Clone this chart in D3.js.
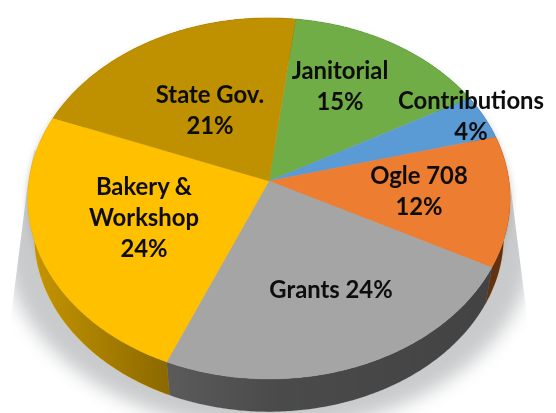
<!DOCTYPE html>
<html>
<head>
<meta charset="utf-8">
<script src="https://cdnjs.cloudflare.com/ajax/libs/d3/7.8.5/d3.min.js"></script>
<style>
html,body{margin:0;padding:0;background:#fff;overflow:hidden}
svg{display:block}
text{font-family:Lato,"Open Sans",sans-serif;font-weight:700;fill:#0b0b0b;text-anchor:middle}
</style>
</head>
<body>
<svg id="chart" width="556" height="413"></svg>
<script>
// Data, clockwise from the State Gov. / Janitorial boundary
const categories = ["Janitorial","Contributions","Ogle 708","Grants","Bakery & Workshop","State Gov."];
const values = [15,4,11.7,23.7,24.6,21];
const colors = ["#70AD47","#5B9BD5","#ED7D31","#A5A5A5","#FFC000","#BF9000"];
const labelLines = [["Janitorial","15%"],["Contributions","4%"],["Ogle 708","12%"],["Grants 24%"],["Bakery &","Workshop","24%"],["State Gov.","21%"]];

// Layout (not data)
const W=556,H=413,cx=269,cy=181,A=240,B=178.8,k=0.0969;
const startDeg=7, lowerScale=0.973, lowerDrop=38, lineGap=31, fontSize=23.8;
const labelAnchors=[[340,79],[471,109],[419,184],[331,298],[144,195],[210,103]];

const svg=d3.select("#chart");
const defs=svg.append("defs");

// Perspective projection of the unit disc
function proj(a,r=1){
  const X=r*Math.sin(a),Y=-r*Math.cos(a),w=1-k*Y;
  return [cx+A*X/w,cy+B*Y/w];
}
const lower=p=>[cx+(p[0]-cx)*lowerScale,cy+(p[1]-cy)*lowerScale+lowerDrop];
const line=d3.line();
const rim=(a0,a1)=>{
  const n=Math.max(2,Math.ceil((a1-a0)/0.01));
  return d3.range(n+1).map(i=>proj(a0+(a1-a0)*i/n));
};

const s0=startDeg*Math.PI/180;
const arcs=d3.pie().sort(null).value(d=>d).startAngle(s0).endAngle(s0+2*Math.PI)(values);

// shadow: straight sharp sides, soft elliptical lower edge
const mkBlur=(id,sd)=>defs.append("filter").attr("id",id).attr("filterUnits","userSpaceOnUse")
  .attr("x",-60).attr("y",-60).attr("width",W+120).attr("height",H+120)
  .append("feGaussianBlur").attr("stdDeviation",sd);
mkBlur("blurSoft",9); mkBlur("blurRim",3); mkBlur("blurText",0.35);
defs.append("mask").attr("id","shadowMask").attr("maskUnits","userSpaceOnUse")
  .attr("x",-60).attr("y",-60).attr("width",W+120).attr("height",H+120)
  .append("ellipse").attr("cx",269).attr("cy",240).attr("rx",265).attr("ry",190)
  .attr("fill","#fff").attr("filter","url(#blurSoft)");
svg.append("g").attr("mask","url(#shadowMask)")
  .append("path")
  .attr("d",line([[34,150],[500,150],[511,190],[530,340],[530,430],[8,430],[8,340],[27,190]])+"Z")
  .attr("fill","#c8cacb");
svg.append("path")
  .attr("d",line(rim(0,2*Math.PI).map(p=>[cx+(p[0]-cx)*1.006,p[1]+3]))+"Z")
  .attr("fill","#a9abad").attr("opacity",.55).attr("filter","url(#blurRim)");

// side walls
const shade=defs.append("linearGradient").attr("id","shade").attr("gradientUnits","userSpaceOnUse")
  .attr("x1",27).attr("x2",510).attr("y1",0).attr("y2",0);
[[0,.22],[.288,.45],[.52,.55],[1,.6]].forEach(s=>shade.append("stop").attr("offset",s[0]).attr("stop-color","#000").attr("stop-opacity",s[1]));
const walls=svg.append("g");
const wallPath=d=>{const r=rim(d.startAngle,d.endAngle);return line(r.concat(r.map(lower).reverse()))+"Z";};
walls.selectAll("path.w").data(arcs).join("path").attr("class","w")
  .attr("d",wallPath).attr("fill",(d,i)=>colors[i]).attr("stroke",(d,i)=>colors[i]).attr("stroke-width",.4);
walls.selectAll("path.s").data(arcs).join("path").attr("class","s")
  .attr("d",wallPath).attr("fill","url(#shade)");

// top face
svg.append("g").selectAll("path").data(arcs).join("path")
  .attr("d",d=>line([[cx,cy]].concat(rim(d.startAngle,d.endAngle)))+"Z")
  .attr("fill",(d,i)=>colors[i]).attr("stroke",(d,i)=>colors[i]).attr("stroke-width",.3);

// labels
const lab=svg.append("g").attr("font-size",fontSize).attr("filter","url(#blurText)");
labelLines.forEach((lines,i)=>{
  lines.forEach((t,j)=>{
    lab.append("text").attr("x",labelAnchors[i][0]).attr("y",labelAnchors[i][1]+j*lineGap).text(t);
  });
});
</script>
</body>
</html>
